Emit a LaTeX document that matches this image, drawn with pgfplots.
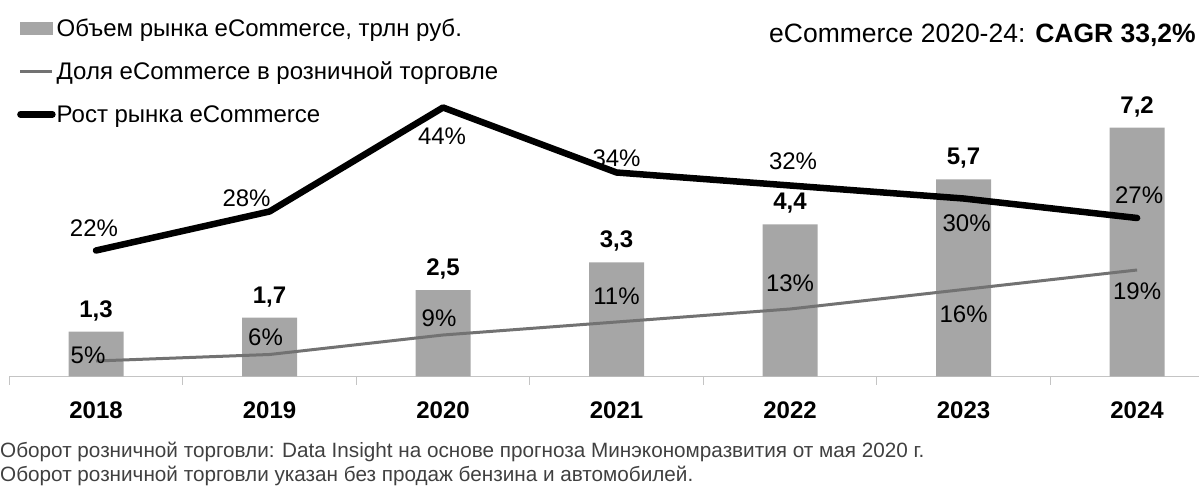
\documentclass[border=0pt]{standalone}
\usepackage{fontspec}
\setmainfont{Liberation Sans}
\usepackage{pgfplots}
\usepackage{pgfplotstable}
\pgfplotsset{compat=1.18}
\definecolor{barGray}{HTML}{A6A6A6}
\definecolor{shareGray}{HTML}{727272}
\definecolor{axisGray}{HTML}{C4C4C4}
\definecolor{noteGray}{HTML}{404040}
\newcommand{\fs}[1]{\fontsize{#1bp}{#1bp}\selectfont}

% market volume, trln rub
\pgfplotstableread{
x vol lab
0 1.3 {1,3}
1 1.7 {1,7}
2 2.5 {2,5}
3 3.3 {3,3}
4 4.4 {4,4}
5 5.7 {5,7}
6 7.2 {7,2}
}\volume
% ecommerce growth, %
\pgfplotstableread{
x g dx dy
0 22 -2 22
1 28 -23 13
2 44 -1 -29
3 34 0 14
4 32 3 24
5 30 3 -25
6 27 2 23
}\growth
% share in retail, %
\pgfplotstableread{
x s dx dy
0 5 -8 6
1 6 -4 17
2 9 -4 17
3 11 0 26
4 13 0 26
5 16 0 -25
6 19 0 -21
}\share

\begin{document}
\begin{tikzpicture}
\useasboundingbox (0bp,0bp) rectangle (1199bp,491bp);

\begin{axis}[
  at={(9.25bp,114.5bp)}, anchor=south west,
  scale only axis, width=1189.75bp, height=376.5bp,
  xmin=-0.5, xmax=6.357, ymin=0, ymax=10.888,
  axis x line=bottom, axis y line=none,
  axis line style={-, draw=axisGray, line width=1.5bp},
  xtick={0,...,6},
  xticklabels={2018,2019,2020,2021,2022,2023,2024},
  major tick length=0pt,
  xticklabel style={font=\fs{24}\bfseries, anchor=center, yshift=-33.5bp},
  extra x ticks={-0.5,0.5,1.5,2.5,3.5,4.5,5.5},
  extra x tick labels={},
  extra x tick style={major tick length=8bp, tick align=outside,
    tick style={draw=axisGray, line width=1.2bp}},
  ytick=\empty,
  clip=false,
]
\addplot[ybar, bar width=55bp, fill=barGray, draw=none,
  point meta=explicit symbolic,
  nodes near coords,
  nodes near coords style={font=\fs{24}\bfseries, anchor=center, yshift=21bp, inner sep=0pt}]
  table[x=x, y=vol, meta=lab] {\volume};
\end{axis}

\begin{axis}[
  at={(9.25bp,114.5bp)}, anchor=south west,
  scale only axis, width=1189.75bp, height=376.5bp,
  xmin=-0.5, xmax=6.357, ymin=2.615, ymax=60.54,
  axis lines=none, clip=false,
  legend style={at={(axis description cs:0.0065,0.948)}, anchor=north west,
    draw=none, fill=none, inner sep=0pt, row sep=26bp, column sep=1bp,
    font=\fs{24},
    nodes={inner xsep=0pt, inner ysep=0pt, text height=17bp, text depth=0pt}},
  legend cell align=left,
]
\addlegendimage{legend image code/.code={\fill[barGray] (-4bp,-6bp) rectangle (28bp,6bp);}}
\addlegendentry{Объем рынка eCommerce, трлн руб.}

\addplot[shareGray, line width=3bp, line join=round,
  legend image code/.code={\draw[shareGray, line width=3bp] (-4bp,0bp) -- (28bp,0bp);},
  visualization depends on={\thisrow{dx} \as \dx},
  visualization depends on={\thisrow{dy} \as \dy},
  point meta=explicit symbolic,
  nodes near coords={\pgfplotspointmeta\%},
  nodes near coords style={font=\fs{24}, text=black, anchor=center, inner sep=0pt,
    xshift=\dx bp, yshift=\dy bp}]
  table[x=x, y=s, meta=s] {\share};
\addlegendentry{Доля eCommerce в розничной торговле}

\addplot[black, line width=6.5bp, line join=round, line cap=round,
  legend image code/.code={\draw[black, line width=6.5bp] (-4bp,0bp) -- (28bp,0bp);},
  visualization depends on={\thisrow{dx} \as \dx},
  visualization depends on={\thisrow{dy} \as \dy},
  point meta=explicit symbolic,
  nodes near coords={\pgfplotspointmeta\%},
  nodes near coords style={font=\fs{24}, text=black, anchor=center, inner sep=0pt,
    xshift=\dx bp, yshift=\dy bp}]
  table[x=x, y=g, meta=g] {\growth};
\addlegendentry{Рост рынка eCommerce}
\end{axis}

\node[anchor=east, inner sep=0pt, font=\fs{26.5}] at (1196bp,456bp)
  {eCommerce 2020-24: \textbf{CAGR 33,2\%}};
\node[anchor=west, inner sep=0pt, font=\fs{20.7}, text=noteGray] at (0bp,39bp)
  {Оборот розничной торговли: Data Insight на основе прогноза Минэкономразвития от мая 2020 г.};
\node[anchor=west, inner sep=0pt, font=\fs{20.7}, text=noteGray] at (0bp,15bp)
  {Оборот розничной торговли указан без продаж бензина и автомобилей.};
\end{tikzpicture}
\end{document}
